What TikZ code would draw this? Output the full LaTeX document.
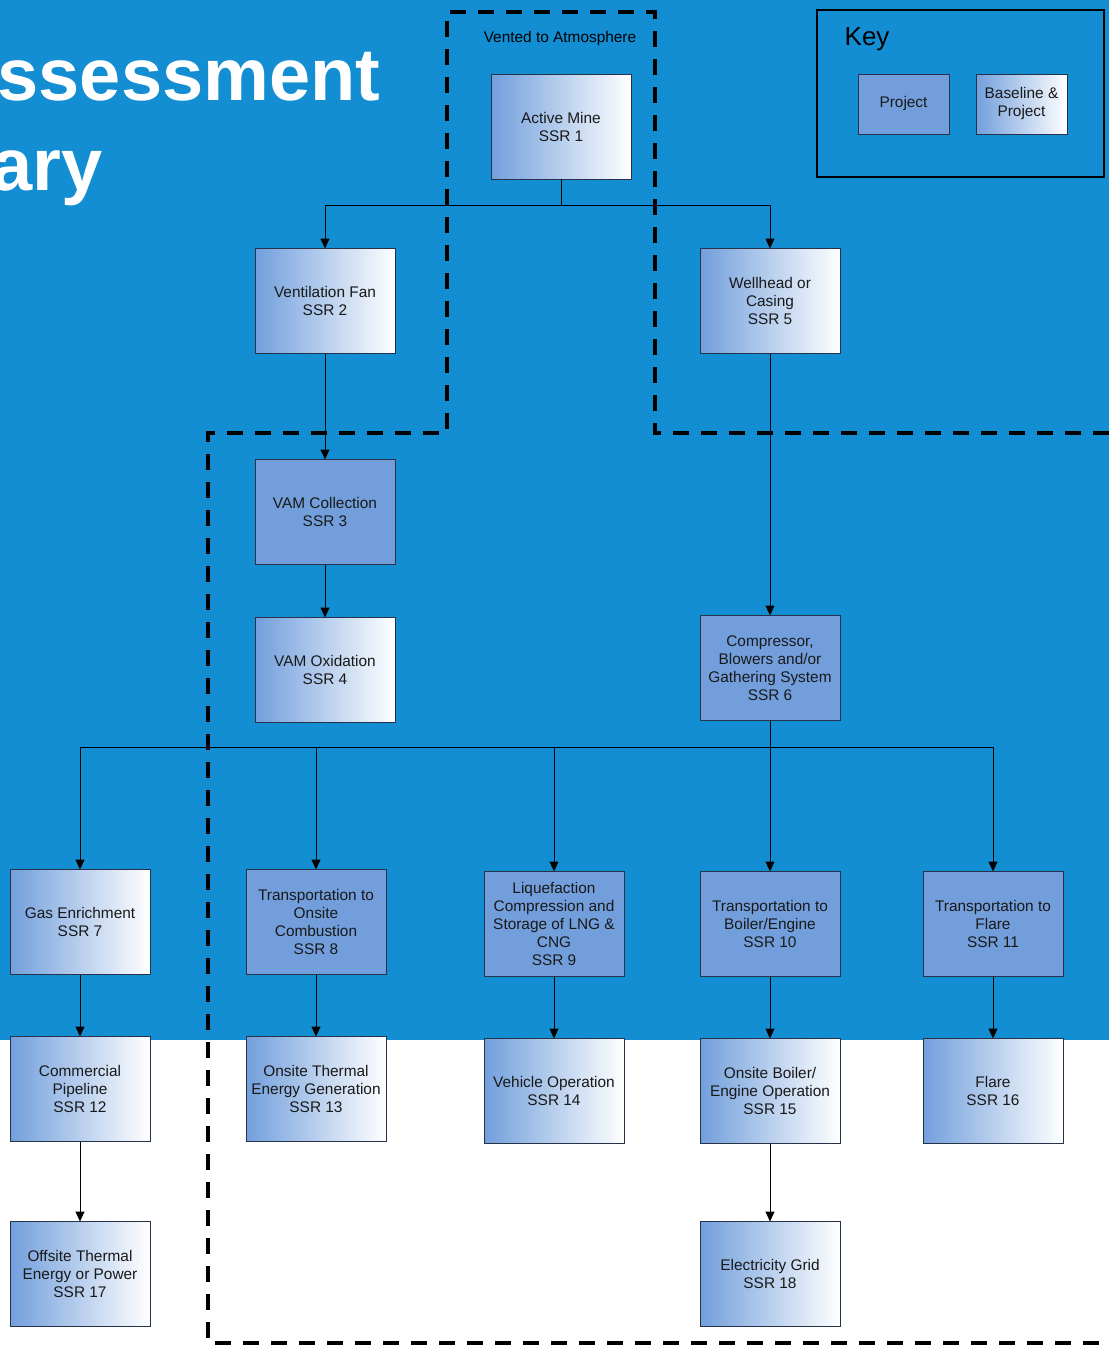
\documentclass[tikz,border=0pt]{standalone}
\usepackage{fontspec}
\setmainfont{Liberation Sans}
\usetikzlibrary{arrows.meta,positioning}
\definecolor{bgblue}{RGB}{19,142,211}
\definecolor{boxblue}{RGB}{114,159,220}
\definecolor{boxline}{RGB}{38,50,72}

\begin{document}
\begin{tikzpicture}[->,>={Triangle[length=5pt,width=4.5pt]},x=0.5pt,y=-0.5pt,
                    line width=0.5pt]
\tikzstyle{every node}=[font=\fontsize{7.7}{9}\selectfont,align=center,outer sep=0pt]
\tikzstyle{ssr}=[rectangle,draw=boxline,text=black!90,minimum width=70pt,minimum height=52.5pt,inner sep=1pt]
\tikzstyle{proj}=[ssr,fill=boxblue]
\tikzstyle{both}=[ssr,left color=boxblue,right color=white]

\useasboundingbox (0,0) rectangle (1109,1345);
\fill [bgblue] (0,0) rectangle (1109,1040);

% title, cut off at the left
\node [anchor=base west,text=white,font=\fontsize{37}{44}\bfseries\selectfont] (title1) at (-9,100) {ssessment};
\node [anchor=base west,text=white,font=\fontsize{37}{44}\bfseries\selectfont] (title2) at (-15,190) {ary};

% key
\draw [-,line width=1.4pt] (817,10) rectangle (1104,177);
\node [anchor=base west,font=\fontsize{13}{15}\selectfont] (keytitle) at (838,45) {Key};
\node [proj,minimum width=45.5pt,minimum height=30pt] (keyproj) at (903.5,104) {Project};
\node [both,minimum width=45.5pt,minimum height=30pt] (keyboth) at (1021.5,104) {Baseline \&\\Project};

\node (vented) at (560,39) {Vented to Atmosphere};

\node [both] (ssr1) at (561,126.5) {Active Mine\\SSR 1};
\node [both] (ssr2) at (325,301) {Ventilation Fan\\SSR 2};
\node [both] (ssr5) at (770,301) {Wellhead or\\Casing\\SSR 5};
\node [proj] [below=53pt of ssr2] (ssr3) {VAM Collection\\SSR 3};
\node [both] [below=26.5pt of ssr3] (ssr4) {VAM Oxidation\\SSR 4};
\node [proj] (ssr6) at (770,668) {Compressor,\\Blowers and/or\\Gathering System\\SSR 6};

\node [both] (ssr7) at (80,922) {Gas Enrichment\\SSR 7};
\node [proj] (ssr8) at (316,922) {Transportation to\\Onsite\\Combustion\\SSR 8};
\node [proj] (ssr9) at (554,924) {Liquefaction\\Compression and\\Storage of LNG \&\\CNG\\SSR 9};
\node [proj] (ssr10) at (770,924) {Transportation to\\Boiler/Engine\\SSR 10};
\node [proj] (ssr11) at (993,924) {Transportation to\\Flare\\SSR 11};

\node [both] [below=31pt of ssr7] (ssr12) {Commercial\\Pipeline\\SSR 12};
\node [both] [below=31pt of ssr8] (ssr13) {Onsite Thermal\\Energy Generation\\SSR 13};
\node [both] [below=31pt of ssr9] (ssr14) {Vehicle Operation\\SSR 14};
\node [both] [below=31pt of ssr10] (ssr15) {Onsite Boiler/\\Engine Operation\\SSR 15};
\node [both] [below=31pt of ssr11] (ssr16) {Flare\\SSR 16};
\node [both] [below=40pt of ssr12] (ssr17) {Offsite Thermal\\Energy or Power\\SSR 17};
\node [both] [below=39pt of ssr15] (ssr18) {Electricity Grid\\SSR 18};

\coordinate (split1) at (561,205);
\coordinate (split2) at (770,747);

\draw (ssr1.south) -- (split1) -| (ssr2.north);
\draw (split1) -| (ssr5.north);
\draw (ssr6.south) -- (split2) -| (ssr7.north);
\draw (split2) -| (ssr8.north);
\draw (split2) -| (ssr9.north);
\draw (split2) -| (ssr11.north);

\path (ssr2) edge (ssr3)
      (ssr3) edge (ssr4)
      (ssr5) edge (ssr6)
      (split2) edge (ssr10)
      (ssr7) edge (ssr12)
      (ssr8) edge (ssr13)
      (ssr9) edge (ssr14)
      (ssr10) edge (ssr15)
      (ssr11) edge (ssr16)
      (ssr12) edge (ssr17)
      (ssr15) edge (ssr18);

% boundary
\draw [-,line width=1.8pt,dash pattern=on 8pt off 6pt]
      (1109,433) -- (655,433) -- (655,12) -- (447,12) -- (447,433)
      -- (208,433) -- (208,1343) -- (1109,1343);
\end{tikzpicture}
\end{document}
